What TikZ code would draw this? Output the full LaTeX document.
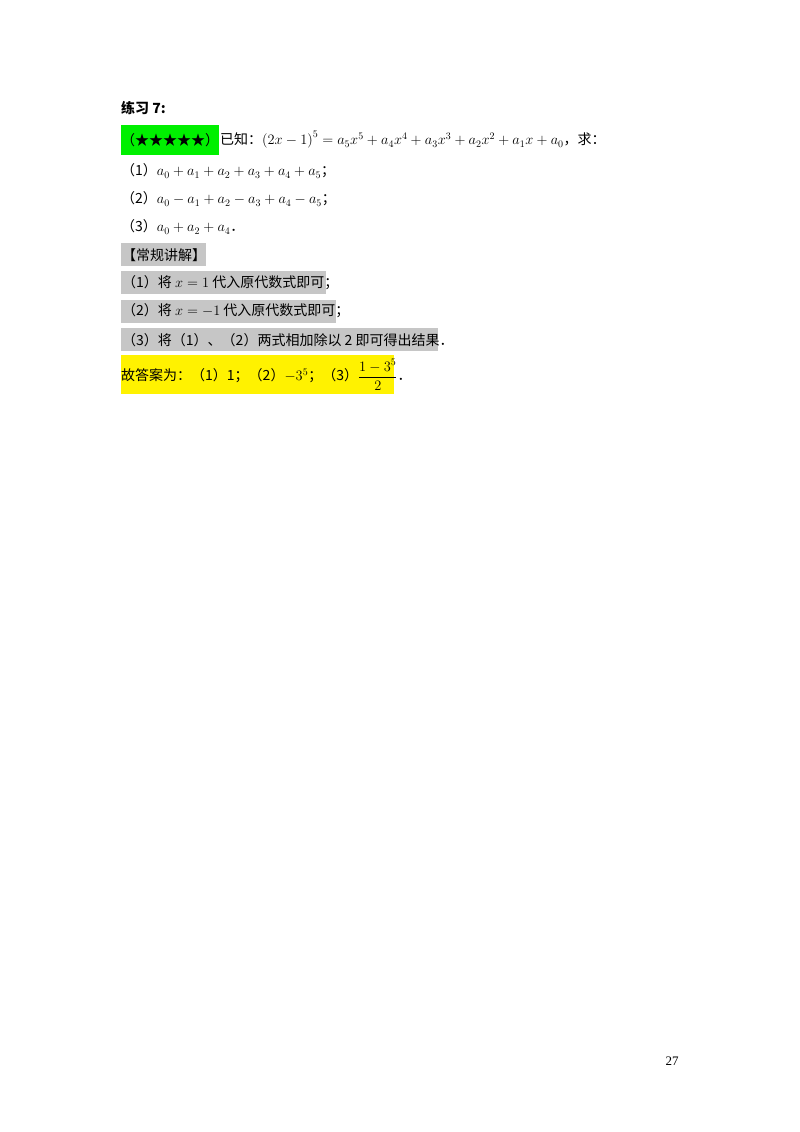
\documentclass[tikz,border=0pt]{standalone}
\usepackage{amsmath}
\usepackage{fontspec}
\setmainfont{Liberation Serif}
\newfontfamily\cjk{Noto Sans CJK SC}
\begin{document}
\begin{tikzpicture}[x=1pt,y=-1pt,
  t/.style={anchor=west,inner sep=0pt,font=\fontsize{14}{16}\selectfont\cjk}]
\useasboundingbox[fill=white] (0,0) rectangle (800,1132);
\fill[green!90!black!60!green] (121,125) rectangle (219,155);
\fill[gray!45] (121,243) rectangle (206,266);
\fill[gray!45] (121,271) rectangle (326,294);
\fill[gray!45] (121,300) rectangle (336,323);
\fill[gray!45] (121,328) rectangle (438,351);
\fill[yellow] (121,355) rectangle (394,394);
\node[t,font=\fontsize{14}{16}\selectfont\cjk\bfseries] (title) at (121,108) {练习 7:};
\node[t] (stars) at (121,140) {（★★★★★）};
\node[t] (given) at (220,140) {已知：$\left(2x-1\right)^5=a_5x^5+a_4x^4+a_3x^3+a_2x^2+a_1x+a_0$，求：};
\node[t] (q1) at (121,171) {（1）$a_0+a_1+a_2+a_3+a_4+a_5$；};
\node[t] (q2) at (121,199) {（2）$a_0-a_1+a_2-a_3+a_4-a_5$；};
\node[t] (q3) at (121,227) {（3）$a_0+a_2+a_4$．};
\node[t] (h) at (122,255) {【常规讲解】};
\node[t] (s1) at (122,283) {（1）将 $x=1$ 代入原代数式即可；};
\node[t] (s2) at (122,311) {（2）将 $x=-1$ 代入原代数式即可；};
\node[t] (s3) at (122,340) {（3）将（1）、（2）两式相加除以 2 即可得出结果．};
\node[t] (ans) at (121,375) {故答案为：（1）1；（2）$-3^5$；（3）$\dfrac{1-3^5}{2}$．};
\node[anchor=center,inner sep=0pt,font=\fontsize{13}{15}\selectfont] (pg) at (672,1061) {27};
\end{tikzpicture}
\end{document}
